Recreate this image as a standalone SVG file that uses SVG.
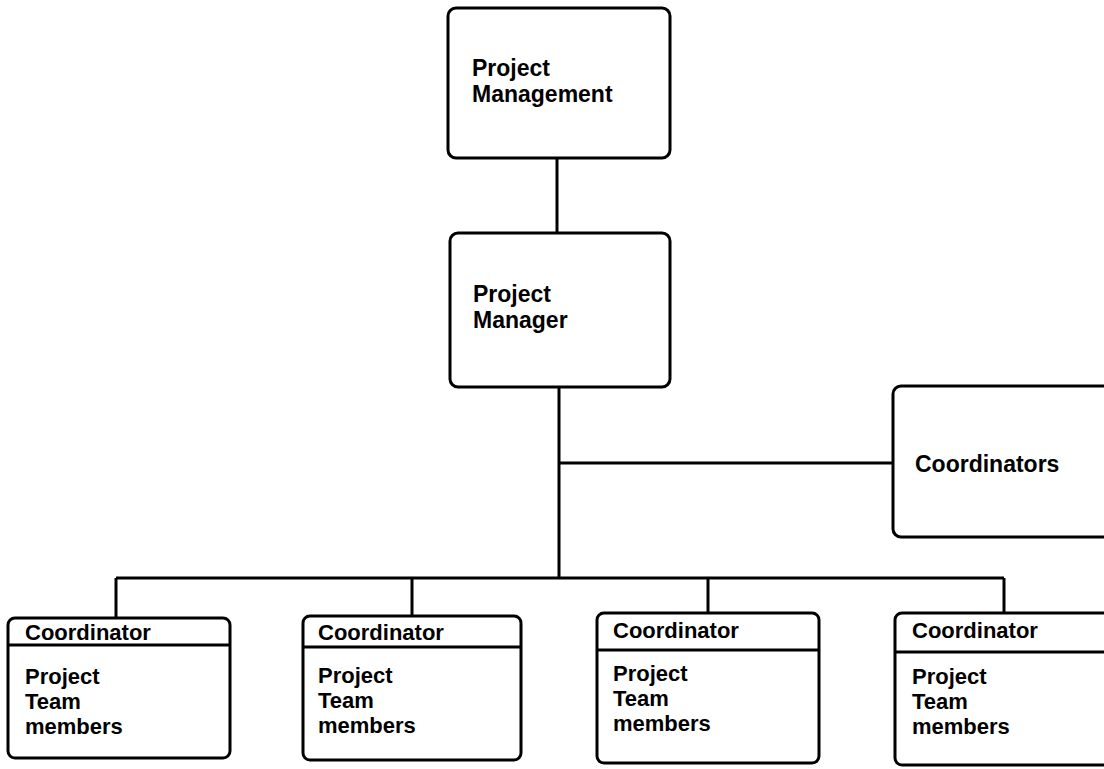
<svg xmlns="http://www.w3.org/2000/svg" width="1104" height="769" viewBox="0 0 1104 769">
  <style>
    .box { fill: #ffffff; stroke: #000000; stroke-width: 3; }
    .line { fill: none; stroke: #000000; stroke-width: 3; }
    .lbl { font-family: "Liberation Sans", Arial, Helvetica, sans-serif; font-weight: bold; font-size: 22px; fill: #000000; }
    .big { font-size: 23px; }
  </style>
  <rect width="1104" height="769" fill="#ffffff"/>

  <!-- connectors -->
  <g id="connectors">
    <path class="line" d="M557 158 V233"/>
    <path class="line" d="M559 387 V578"/>
    <path class="line" d="M559 463 H893"/>
    <path class="line" d="M116 578 H1004"/>
    <path class="line" d="M116 578 V618"/>
    <path class="line" d="M412 578 V616"/>
    <path class="line" d="M708 578 V613"/>
    <path class="line" d="M1004 578 V613"/>
  </g>

  <!-- top level -->
  <g id="project-management">
    <rect class="box" x="448" y="8" width="222" height="150" rx="8"/>
    <text class="lbl big" x="472" y="76">Project</text>
    <text class="lbl big" x="472" y="102">Management</text>
  </g>

  <g id="project-manager">
    <rect class="box" x="450" y="233" width="220" height="154" rx="8"/>
    <text class="lbl big" x="473" y="302">Project</text>
    <text class="lbl big" x="473" y="328">Manager</text>
  </g>

  <g id="coordinators">
    <rect class="box" x="893" y="386" width="240" height="151" rx="8"/>
    <text class="lbl big" x="915" y="472">Coordinators</text>
  </g>

  <!-- team boxes -->
  <g id="team-1">
    <rect class="box" x="8" y="618" width="222" height="140" rx="7"/>
    <path class="line" d="M8 645 H230"/>
    <text class="lbl" x="25" y="640">Coordinator</text>
    <text class="lbl" x="25" y="684">Project</text>
    <text class="lbl" x="25" y="709">Team</text>
    <text class="lbl" x="25" y="734">members</text>
  </g>

  <g id="team-2">
    <rect class="box" x="303" y="616" width="218" height="144" rx="7"/>
    <path class="line" d="M303 647 H521"/>
    <text class="lbl" x="318" y="640">Coordinator</text>
    <text class="lbl" x="318" y="683">Project</text>
    <text class="lbl" x="318" y="708">Team</text>
    <text class="lbl" x="318" y="733">members</text>
  </g>

  <g id="team-3">
    <rect class="box" x="597" y="613" width="222" height="150" rx="7"/>
    <path class="line" d="M597 650 H819"/>
    <text class="lbl" x="613" y="638">Coordinator</text>
    <text class="lbl" x="613" y="681">Project</text>
    <text class="lbl" x="613" y="706">Team</text>
    <text class="lbl" x="613" y="731">members</text>
  </g>

  <g id="team-4">
    <rect class="box" x="895" y="613" width="240" height="152" rx="7"/>
    <path class="line" d="M895 652 H1104"/>
    <text class="lbl" x="912" y="638">Coordinator</text>
    <text class="lbl" x="912" y="684">Project</text>
    <text class="lbl" x="912" y="709">Team</text>
    <text class="lbl" x="912" y="734">members</text>
  </g>
</svg>
